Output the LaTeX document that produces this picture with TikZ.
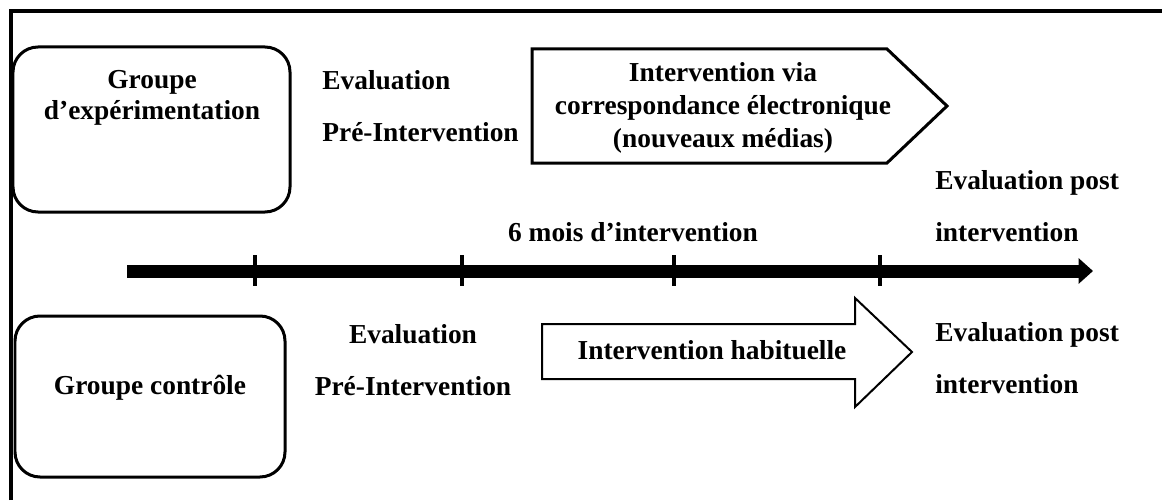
\documentclass[tikz,border=0pt]{standalone}
\usepackage{fontspec}
\setmainfont{Liberation Serif}
\usepackage{tikz}
\usetikzlibrary{
  arrows.meta,%
  calc,%
  positioning
}
\tikzset{>=latex}
\tikzset{every node/.style={font=\bfseries\fontsize{15.6}{17.6}\selectfont, inner sep=0pt}}
\tikzset{evallbl/.style={font=\bfseries\fontsize{15.6}{29.6}\selectfont}}
\tikzset{groupbox/.style={draw=black, line width=0.06cm, rounded corners=0.5cm},
  blockarrow/.style={draw=black, line width=0.05cm, line join=miter},
  tickmark/.style={line width=0.08cm}}

\begin{document}
\begin{tikzpicture}[x=0.02cm, y=-0.02cm]
  \useasboundingbox (0,0) rectangle (1162,500);
  % open frame (top and left only)
  \draw[line width=0.08cm] (11,500) -- (11,11) -- (1162,11);
  % groups
  \draw[groupbox] (13,47) rectangle (290,212);
  \node[align=center] (exp) at (152,98) {Groupe\\d'expérimentation};
  \draw[groupbox] (15,316) rectangle (285,477);
  \node (ctl) at (150,388) {Groupe contrôle};
  % pre-intervention
  \node[evallbl, align=left, anchor=west] (preexp) at (322,106) {Evaluation\\Pré-Intervention};
  \node[evallbl, align=center] (prectl) at (413,360) {Evaluation\\Pré-Intervention};
  % interventions
  \draw[blockarrow, line width=0.06cm] (532,49) -- (887,49) -- (947,106) -- (887,163) -- (532,163) -- cycle;
  \node[align=center, font=\bfseries\fontsize{15.6}{18.7}\selectfont] (intexp) at (723,108)
    {Intervention via\\correspondance électronique\\(nouveaux médias)};
  \draw[blockarrow, line width=0.04cm] (542,324) -- (855,324) -- (855,298) -- (912,352)
    -- (855,407) -- (855,379) -- (542,379) -- cycle;
  \node (intctl) at (712,350) {Intervention habituelle};
  % time line
  \coordinate (t0) at (127,271);
  \coordinate (t1) at (1093,271);
  \draw[line width=0.26cm, -{Triangle[length=0.29cm,width=0.5cm]}] (t0) -- (t1);
  \foreach \x in {255,462,674,880}
    \draw[tickmark] (\x,255) -- (\x,286);
  \node (duree) at (633,232) {6 mois d'intervention};
  % post-intervention
  \node[evallbl, align=left, anchor=west] (postexp) at (935,206) {Evaluation post\\intervention};
  \node[evallbl, align=left, anchor=west] (postctl) at (935,358) {Evaluation post\\intervention};
\end{tikzpicture}
\end{document}
